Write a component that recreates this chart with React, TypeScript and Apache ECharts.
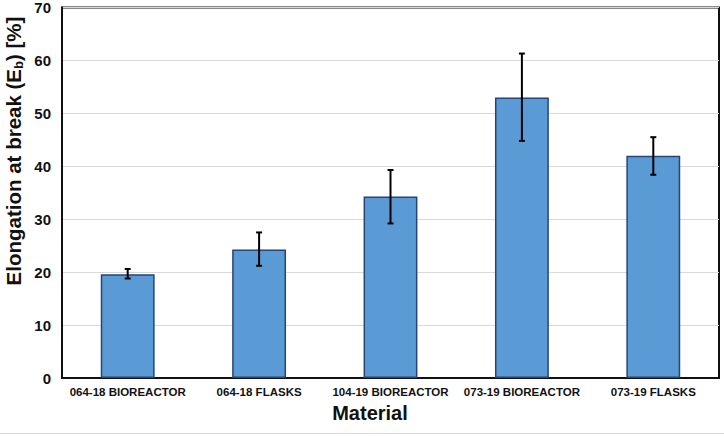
import React, { useEffect, useRef } from "react";
import * as echarts from "echarts";

const categories = ["064-18 BIOREACTOR", "064-18 FLASKS", "104-19 BIOREACTOR", "073-19 BIOREACTOR", "073-19 FLASKS"];
const values = [19.6, 24.3, 34.3, 53.0, 42.0];
const errLow = [18.8, 21.2, 29.2, 44.8, 38.4];
const errHigh = [20.6, 27.5, 39.3, 61.3, 45.5];

export default function App() {
  const ref = useRef<HTMLDivElement>(null);
  useEffect(() => {
    if (!ref.current) return;
    const chart = echarts.init(ref.current, undefined, { renderer: "svg" });
    const font = "Liberation Sans, Arial, sans-serif";
    chart.setOption({
      animation: false,
      backgroundColor: "#ffffff",
      grid: { left: 62, right: 5, top: 7, bottom: 58, show: true, borderColor: "#111", borderWidth: 2, containLabel: false },
      xAxis: {
        type: "category",
        data: categories,
        axisLine: { show: true, lineStyle: { color: "#111", width: 2 } },
        axisTick: { show: false },
        axisLabel: { color: "#111", fontFamily: font, fontWeight: "bold", fontSize: 11.5, margin: 8, interval: 0 },
      },
      yAxis: {
        type: "value",
        min: 0,
        max: 70,
        interval: 10,
        axisLine: { show: true, lineStyle: { color: "#111", width: 2 } },
        axisTick: { show: false },
        splitLine: { lineStyle: { color: "#d9d9d9", width: 1 } },
        axisLabel: { color: "#111", fontFamily: font, fontWeight: "bold", fontSize: 15, margin: 11 },
      },
      series: [
        {
          type: "bar",
          data: values,
          barWidth: "41%",
          itemStyle: { color: "#5b9bd5", borderColor: "#264478", borderWidth: 1.5 },
        },
        {
          type: "custom",
          data: categories.map((_, i) => [i, errLow[i], errHigh[i]]),
          renderItem: (params: any, api: any) => {
            const i = api.value(0);
            const lo = api.coord([i, api.value(1)]);
            const hi = api.coord([i, api.value(2)]);
            const hw = 3;
            const style = { stroke: "#000", lineWidth: 2 };
            return {
              type: "group",
              children: [
                { type: "line", shape: { x1: lo[0], y1: lo[1], x2: hi[0], y2: hi[1] }, style },
                { type: "line", shape: { x1: lo[0] - hw, y1: lo[1], x2: lo[0] + hw, y2: lo[1] }, style },
                { type: "line", shape: { x1: hi[0] - hw, y1: hi[1], x2: hi[0] + hw, y2: hi[1] }, style },
              ],
            };
          },
          z: 10,
        },
      ],
      graphic: [
        { type: "line", shape: { x1: 0, y1: 433.5, x2: 724, y2: 433.5 }, style: { stroke: "#d9d9d9", lineWidth: 1 } },
        {
          type: "text",
          x: 370,
          y: 413,
          style: {
            text: "Material",
            fill: "#111",
            font: "bold 20px Liberation Sans, Arial, sans-serif",
            align: "center",
            verticalAlign: "middle",
          },
        },
        {
          type: "text",
          x: 13,
          y: 151,
          rotation: Math.PI / 2,
          style: {
            text: "{a|Elongation at break (E}{s|b}{a|) [%]}",
            align: "center",
            verticalAlign: "middle",
            rich: {
              a: { fontFamily: font, fontWeight: "bold", fontSize: 20.5, fill: "#111", lineHeight: 24 },
              s: { fontFamily: font, fontWeight: "bold", fontSize: 13, fill: "#111", lineHeight: 24, verticalAlign: "bottom", padding: [10, 0, 0, 0] },
            },
          },
        },
      ],
    });
    return () => chart.dispose();
  }, []);
  return <div ref={ref} style={{ width: 724, height: 436, position: "absolute", left: 0, top: 0 }} />;
}
